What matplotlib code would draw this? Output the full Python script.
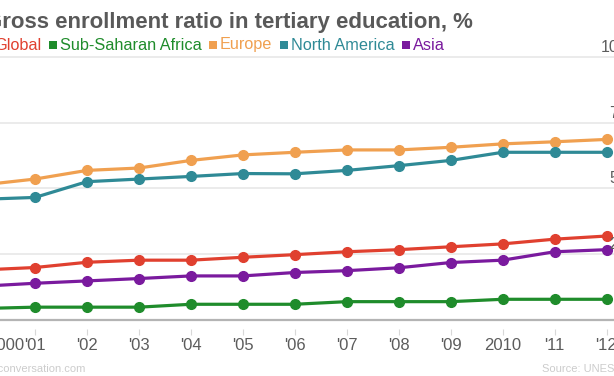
import matplotlib
matplotlib.use("Agg")
import matplotlib.pyplot as plt
import matplotlib.transforms as mtransforms
from matplotlib.patches import Rectangle

# data
years = list(range(2000, 2013))
year_labels = ["2000", "'01", "'02", "'03", "'04", "'05", "'06",
               "'07", "'08", "'09", "2010", "'11", "'12"]

global_ratio = [18.9, 19.8, 21.8, 22.6, 22.6, 23.7, 24.7, 25.8, 26.6, 27.7, 28.8, 30.6, 31.8]
ssa_ratio = [4.2, 4.7, 4.7, 4.7, 5.8, 5.8, 5.8, 6.8, 6.8, 6.8, 7.7, 7.7, 7.7]
europe_ratio = [51.3, 53.5, 56.8, 57.7, 60.6, 62.7, 63.7, 64.6, 64.6, 65.6, 66.9, 67.7, 68.6]
namerica_ratio = [45.8, 46.5, 52.5, 53.5, 54.5, 55.6, 55.5, 56.8, 58.6, 60.6, 63.7, 63.7, 63.7]
asia_ratio = [12.7, 13.8, 14.7, 15.6, 16.6, 16.6, 17.9, 18.6, 19.7, 21.7, 22.6, 25.8, 26.6]

series_names = ["Global", "Sub-Saharan Africa", "Europe", "North America", "Asia"]
series_values = [global_ratio, ssa_ratio, europe_ratio, namerica_ratio, asia_ratio]
colors = ["#e0402f", "#1f8c2b", "#f0a050", "#2f8a96", "#7a1a9e"]

y_ticks = [25, 50, 75, 100]
y_tick_labels = ["25", "50", "75", "100"]

title = "Gross enrollment ratio in tertiary education, %"
credit = "theconversation.com"
source = "Source: UNESCO"

W, H = 614, 376
fig = plt.figure(figsize=(W / 100, H / 100), dpi=100)
plt.rcParams["font.family"] = ["Liberation Sans", "DejaVu Sans"]

# pixel layout (the reference is a cropped screenshot)
x0_px, x1_px = -17.0, 606.5       # positions of 2000 and 2012
step = (x1_px - x0_px) / (years[-1] - years[0])
ax_left_px, ax_right_px = -60.0, 674.0
y0_px = H - 319.5                 # zero line, from bottom
unit = 2.625                      # px per percentage point
ymax = 105

ax = fig.add_axes([ax_left_px / W, y0_px / H,
                   (ax_right_px - ax_left_px) / W, ymax * unit / H])
ax.set_facecolor("none")
ax.set_xlim(years[0] + (ax_left_px - x0_px) / step,
            years[0] + (ax_right_px - x0_px) / step)
ax.set_ylim(0, ymax)

for vals, c in zip(series_values, colors):
    ax.plot(years, vals, color=c, lw=2.3, marker="o", ms=7,
            solid_capstyle="round", zorder=3)

# grid
ax.set_yticks(y_ticks)
ax.yaxis.grid(True, color="#ebebeb", lw=1.4)
ax.tick_params(axis="y", length=0, labelleft=False)
for s in ["left", "right", "top"]:
    ax.spines[s].set_visible(False)
ax.axhline(0, color="#b4b4b4", lw=1.6, zorder=2, clip_on=False)

# x ticks, detached from the baseline
ax.spines["bottom"].set_position(("outward", 6.5))
ax.spines["bottom"].set_visible(False)
ax.set_xticks(years, [""] + year_labels[1:])
ax.tick_params(axis="x", length=4.3, width=0.8, color="#d8d8d8",
               pad=2.5, labelsize=12, labelcolor="#5c5c5c")
first = mtransforms.offset_copy(ax.get_xaxis_transform(), fig=fig, x=16, y=-6.5 - 4.3 - 2.5, units="points")
ax.text(years[0], 0, year_labels[0], transform=first, ha="center", va="top",
        fontsize=12, color="#5c5c5c")

# right-hand value labels, sitting above their grid lines
lab_tr = mtransforms.offset_copy(
    mtransforms.blended_transform_factory(fig.transFigure, ax.transData),
    fig=fig, y=2, units="dots")
for v, t in zip(y_ticks, y_tick_labels):
    ax.text(627 / W, v, t, transform=lab_tr, ha="right", va="bottom",
            fontsize=11.5, color="#5c5c5c")

# title
fig.text(473 / W, (H - 28) / H, title, ha="right", va="baseline",
         fontsize=16, fontweight="bold", color="#595959")

# legend row
renderer = fig.canvas.get_renderer()
leg_y = (H - 45) / H
sq = 7.5
widths = []
for name in series_names:
    t = fig.text(0, 0, name, fontsize=11.7)
    widths.append(t.get_window_extent(renderer).width)
    t.remove()
x = 41 - widths[0]
for i, (name, c) in enumerate(zip(series_names, colors)):
    if i > 0:
        x += 8
    else:
        x -= 3 + sq
    fig.add_artist(Rectangle((x / W, (H - 48.5) / H), sq / W, sq / H,
                             transform=fig.transFigure, color=c, lw=0))
    x += sq + 3
    fig.text(x / W, leg_y, name, ha="left", va="center", fontsize=11.7, color=c)
    x += widths[i]

# footer
fig.text(86 / W, (H - 369) / H, credit, ha="right", va="center",
         fontsize=8, color="#cccccc")
fig.text(542 / W, (H - 369) / H, source, ha="left", va="center",
         fontsize=8, color="#cccccc")

fig.savefig("out.png", dpi=100)
